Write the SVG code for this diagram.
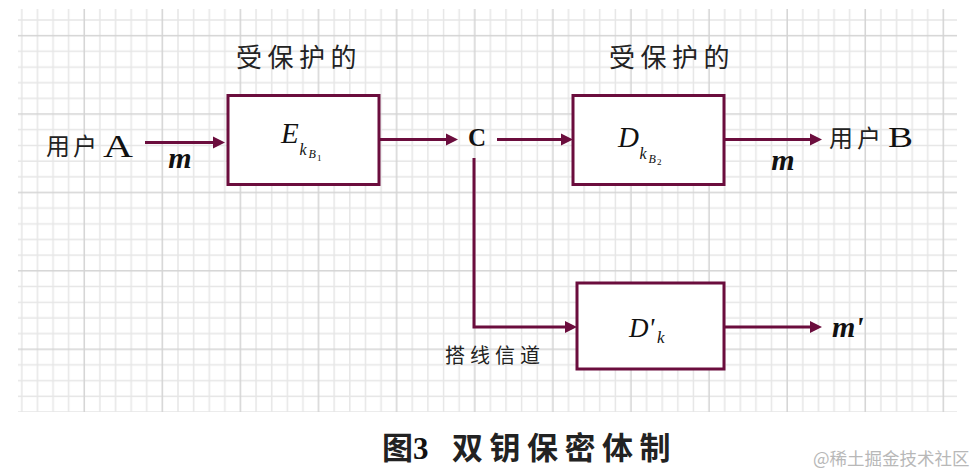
<svg xmlns="http://www.w3.org/2000/svg" width="979" height="476" viewBox="0 0 979 476">
  <style>
    .box { fill: #ffffff; stroke: #6b0d3d; stroke-width: 3; }
    .wire { fill: none; stroke: #6b0d3d; stroke-width: 3; }
    .cjk { font-family: "Noto Sans CJK SC", sans-serif; fill: #222222; }
    .ser { font-family: "Liberation Serif", serif; fill: #111111; }
    .it { font-family: "Liberation Serif", serif; font-style: italic; fill: #111111; }
    .mb { font-family: "Liberation Serif", serif; font-style: italic; font-weight: bold; fill: #111111; }
  </style>
  <defs>
    <pattern id="grid" patternUnits="userSpaceOnUse" x="20.8" y="19" width="78.1" height="78.4">
      <g stroke="#e6e6e6" stroke-width="1.5">
        <line x1="1" y1="0" x2="1" y2="78.4"/>
        <line x1="16.62" y1="0" x2="16.62" y2="78.4"/>
        <line x1="32.24" y1="0" x2="32.24" y2="78.4"/>
        <line x1="47.86" y1="0" x2="47.86" y2="78.4"/>
        <line x1="0" y1="1" x2="78.1" y2="1"/>
        <line x1="0" y1="32.36" x2="78.1" y2="32.36"/>
        <line x1="0" y1="48.04" x2="78.1" y2="48.04"/>
        <line x1="0" y1="63.72" x2="78.1" y2="63.72"/>
      </g>
      <g stroke="#d4d4d4" stroke-width="1.5">
        <line x1="63.48" y1="0" x2="63.48" y2="78.4"/>
        <line x1="0" y1="16.68" x2="78.1" y2="16.68"/>
      </g>
    </pattern>
    <marker id="ah" markerUnits="userSpaceOnUse" viewBox="0 0 12 12" refX="6" refY="6" markerWidth="12" markerHeight="13" orient="auto">
      <path d="M0,0 L12,6 L0,12 z" fill="#6b0d3d"/>
    </marker>
  </defs>

  <rect x="18" y="9" width="939" height="403" fill="url(#grid)"/>

  <g id="connectors">
    <path class="wire" d="M145,142.5 H219" marker-end="url(#ah)"/>
    <path class="wire" d="M379,139.5 H452" marker-end="url(#ah)"/>
    <path class="wire" d="M497,139.5 H567" marker-end="url(#ah)"/>
    <path class="wire" d="M724,139.5 H816" marker-end="url(#ah)"/>
    <path class="wire" d="M474,158 V327 H571" marker-end="url(#ah)"/>
    <path class="wire" d="M724,327 H816" marker-end="url(#ah)"/>
  </g>

  <g id="label-protected-1">
    <text class="cjk" x="236" y="67" font-size="26" letter-spacing="5.5">受保护的</text>
  </g>
  <g id="label-protected-2">
    <text class="cjk" x="609" y="67" font-size="26" letter-spacing="5.5">受保护的</text>
  </g>

  <g id="userA">
    <text class="cjk" x="46" y="155" font-size="24">用</text>
    <text class="cjk" x="73" y="155" font-size="24">户</text>
    <text class="ser" x="103" y="157" font-size="31" textLength="30" lengthAdjust="spacingAndGlyphs">A</text>
  </g>
  <g id="label-m1">
    <text class="mb" x="180" y="168" font-size="30" text-anchor="middle">m</text>
  </g>

  <g id="encrypt">
    <rect class="box" x="228" y="95.5" width="151" height="89"/>
    <text class="it" x="281" y="143" font-size="29">E</text>
    <text class="it" x="299.5" y="155" font-size="16">k</text>
    <text class="it" x="308.5" y="158" font-size="12">B</text>
    <text class="ser" x="317" y="161" font-size="9">1</text>
  </g>

  <g id="nodeC">
    <text class="ser" x="477" y="146" font-size="25" font-weight="bold" text-anchor="middle">C</text>
  </g>

  <g id="decrypt">
    <rect class="box" x="573" y="95.5" width="151" height="89"/>
    <text class="it" x="618" y="146.5" font-size="29">D</text>
    <text class="it" x="639.5" y="159" font-size="16">k</text>
    <text class="it" x="648.5" y="163" font-size="12">B</text>
    <text class="ser" x="657" y="165" font-size="9">2</text>
  </g>

  <g id="userB">
    <text class="cjk" x="829" y="147" font-size="24">用</text>
    <text class="cjk" x="857" y="147" font-size="24">户</text>
    <text class="ser" x="888" y="147" font-size="29" textLength="25" lengthAdjust="spacingAndGlyphs">B</text>
  </g>
  <g id="label-m2">
    <text class="mb" x="783" y="170" font-size="30" text-anchor="middle">m</text>
  </g>

  <g id="eavesdrop">
    <rect class="box" x="577" y="283" width="147" height="86"/>
    <text class="it" x="629" y="336.5" font-size="27">D'</text>
    <text class="it" x="657" y="343" font-size="17">k</text>
  </g>
  <g id="label-mprime">
    <text class="mb" x="832" y="336.5" font-size="30">m'</text>
  </g>

  <g id="label-tap">
    <text class="cjk" x="445" y="363" font-size="20" letter-spacing="5" fill="#3a3a3a">搭线信道</text>
  </g>

  <g id="title">
    <text class="cjk" x="382" y="459" font-size="31" font-weight="bold" fill="#000">图</text>
    <text class="ser" x="413" y="459" font-size="31" font-weight="bold" fill="#1c1c3c">3</text>
    <text class="cjk" x="452" y="459" font-size="31" font-weight="bold" letter-spacing="6.5" fill="#000">双钥保密体制</text>
  </g>

  <g id="watermark">
    <text x="813" y="465" font-size="17.5" font-family="'Noto Sans CJK SC', sans-serif" fill="#b8b8b8">@稀土掘金技术社区</text>
  </g>
</svg>
